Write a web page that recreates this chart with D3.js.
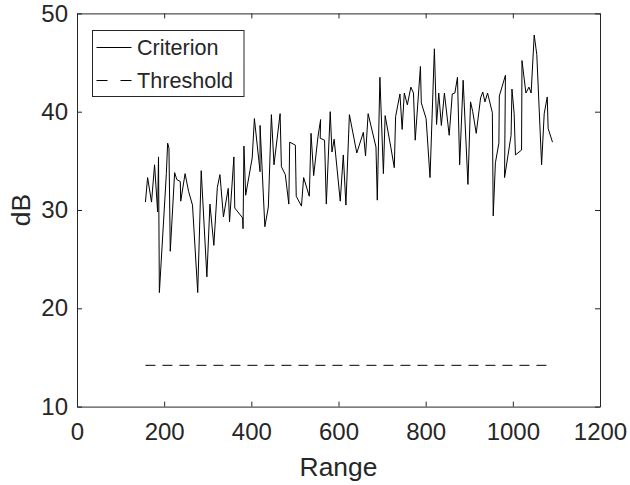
<!DOCTYPE html>
<html>
<head>
<meta charset="utf-8">
<script src="https://cdn.jsdelivr.net/npm/d3@7"></script>
<style>
body{margin:0;background:#fff;}
text{font-family:"Liberation Sans",Arial,sans-serif;fill:#262626;}
</style>
</head>
<body>
<div id="chart"></div>
<script>
(function(){

// Range values (x) of the criterion curve
const rangeVals = [157,162,171,178,185,187,189,205,208,211,
214,224,229,237,238,248,256,265,277,285,
298,305,314,322,328,336,347,350,360,362,
380,381,383,387,402,407,420,420,431,439,
446,452,466,469,478,486,488,501,503,515,
520,533,537,543,553,559,558,568,572,581,
585,590,604,611,617,625,642,657,662,668,
686,689,695,703,707,720,728,731,741,746,
751,758,766,772,776,788,790,801,810,820,
825,830,836,843,854,861,867,873,878,886,
897,903,908,916,926,931,936,942,953,955,
960,968,969,983,981,996,998,1003,1006,1020,
1021,1030,1037,1042,1049,1055,1066,1072,1079,1081,
1091];

// Criterion values in dB
const criterionVals = [30.8,33.3,30.8,34.6,29.8,35.4,21.6,33.7,36.8,36.3,
25.8,33.8,33.1,32.9,30.9,33.7,31.9,30.5,21.6,34.0,
23.2,30.6,26.4,32.3,33.6,29.3,32.2,28.8,35.4,30.2,
29.2,28.1,36.5,31.5,35.3,39.3,33.9,38.6,28.3,30.3,
39.7,34.6,39.8,34.4,33.6,30.6,36.9,36.6,31.4,30.4,
33.3,31.4,37.8,33.5,37.5,39.2,37.3,37.1,30.6,40.0,
35.9,37.2,30.9,35.6,30.5,39.7,35.8,37.9,35.5,39.8,
36.4,31.0,43.5,33.7,39.6,36.4,34.3,39.5,41.8,38.2,
41.9,40.7,42.5,41.9,37.1,44.6,40.9,39.3,33.3,46.4,
38.7,41.9,38.6,41.9,37.6,41.8,41.9,43.5,34.6,43.2,
32.6,41.0,40.0,37.8,41.4,42.0,41.0,41.9,39.9,29.4,
34.8,36.8,41.6,43.7,33.3,37.6,42.3,39.8,35.6,36.1,
45.2,41.9,42.5,41.9,47.8,45.8,34.6,39.8,41.5,38.3,
36.9];

// Threshold level and its extent
const thresholdVal = 14.2;
const thresholdRange = [157,1091];

const xTicks = [0,200,400,600,800,1000,1200];
const yTicks = [10,20,30,40,50];
const legendLabels = ["Criterion","Threshold"];

const width = 630;
const height = 485;
const margin = {top:13.4,right:30,bottom:78.4,left:77};
const axisColor = "#262626";

const svg = d3.select("#chart")
.append("svg")
.attr("width",width)
.attr("height",height);

const x = d3.scaleLinear()
.domain([0,1200])
.range([margin.left,width-margin.right]);

const y = d3.scaleLinear()
.domain([10,50])
.range([height-margin.bottom,margin.top]);

const data = rangeVals.map((r,i)=>({r:r,v:criterionVals[i]}));

// box axes, ticks pointing inward like MATLAB
function styleAxis(g){
    g.select(".domain").attr("stroke",axisColor).attr("stroke-width",1);
    g.selectAll(".tick line").attr("stroke",axisColor).attr("stroke-width",1);
    g.selectAll(".tick text").style("font-size","24px").attr("fill",axisColor);
}

svg.append("g")
.attr("transform",`translate(0,${height-margin.bottom})`)
.call(d3.axisBottom(x).tickValues(xTicks).tickFormat(d3.format("d")).tickSizeInner(-5).tickSizeOuter(0).tickPadding(16))
.call(styleAxis);

svg.append("g")
.attr("transform",`translate(0,${margin.top})`)
.call(d3.axisTop(x).tickValues(xTicks).tickSizeInner(-5).tickSizeOuter(0).tickFormat(""))
.call(styleAxis);

svg.append("g")
.attr("transform",`translate(${margin.left},0)`)
.call(d3.axisLeft(y).tickValues(yTicks).tickFormat(d3.format("d")).tickSizeInner(-5).tickSizeOuter(0).tickPadding(9))
.call(styleAxis);

svg.append("g")
.attr("transform",`translate(${width-margin.right},0)`)
.call(d3.axisRight(y).tickValues(yTicks).tickSizeInner(-5).tickSizeOuter(0).tickFormat(""))
.call(styleAxis);

// threshold
svg.append("line")
.attr("x1",x(thresholdRange[0]))
.attr("x2",x(thresholdRange[1]))
.attr("y1",y(thresholdVal))
.attr("y2",y(thresholdVal))
.attr("stroke","#000")
.attr("stroke-width",1)
.attr("stroke-dasharray","10,7");

// criterion
const line = d3.line()
.x(d=>x(d.r))
.y(d=>y(d.v));

svg.append("path")
.datum(data)
.attr("d",line)
.attr("fill","none")
.attr("stroke","#000")
.attr("stroke-width",1)
.attr("stroke-linejoin","round");

// axis labels
svg.append("text")
.attr("x",(margin.left+width-margin.right)/2)
.attr("y",476)
.attr("text-anchor","middle")
.style("font-size","26.4px")
.text("Range");

svg.append("text")
.attr("transform",`translate(30,${(margin.top+height-margin.bottom)/2}) rotate(-90)`)
.attr("text-anchor","middle")
.style("font-size","26.4px")
.text("dB");

// legend
const legend = svg.append("g").attr("transform","translate(92.5,30.5)");

legend.append("rect")
.attr("width",151.5)
.attr("height",66)
.attr("fill","#fff")
.attr("stroke",axisColor)
.attr("stroke-width",1);

legendLabels.forEach((lab,i)=>{
    const ly = 17 + i*33;
    legend.append("line")
    .attr("x1",4).attr("x2",39)
    .attr("y1",ly).attr("y2",ly)
    .attr("stroke","#000")
    .attr("stroke-width",1)
    .attr("stroke-dasharray",i===1?"11,13":null);
    legend.append("text")
    .attr("x",44.5)
    .attr("y",ly)
    .attr("dy","0.36em")
    .style("font-size","21.6px")
    .attr("fill","#000")
    .text(lab);
});

})();
</script>
</body>
</html>
